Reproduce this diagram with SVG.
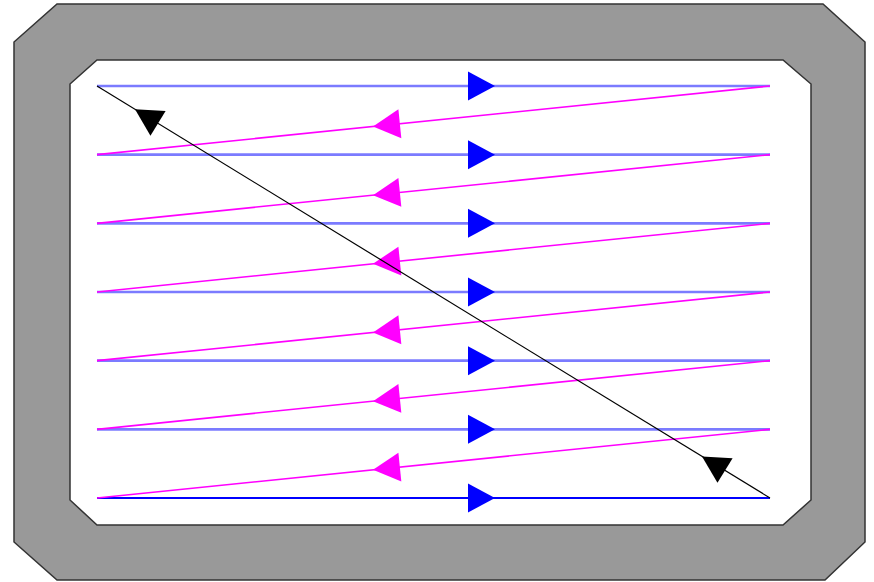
<svg xmlns="http://www.w3.org/2000/svg" xmlns:xlink="http://www.w3.org/1999/xlink" width="874" height="582" viewBox="0 0 874 582">
<style>
.frame{fill:#999999;stroke:#333333;stroke-width:1.5}
.screen{fill:#ffffff;stroke:#333333;stroke-width:1.5}
.scan{stroke:#7b7bff;stroke-width:2.6;fill:none}
.scanlast{stroke:#0000ff;stroke-width:2;fill:none}
.ret{stroke:#ff00ff;stroke-width:1.6;fill:none}
.diag{stroke:#000000;stroke-width:1.2;fill:none}
.ab{fill:#0000ff}
.am{fill:#ff00ff}
.ak{fill:#000000}
</style>
<defs>
<path id="ah" d="M0,0 L-27,-14.5 L-27,14.5 Z"/>
</defs>
<g id="tube">
<polygon class="frame" points="57,4 823,4 865,42 865,542 825,580 57,580 14,542 14,42"/>
</g>
<g id="screen">
<polygon class="screen" points="97,60 783,60 811,84 811,500 783,525 97,525 70,500 70,84"/>
</g>
<g id="connectors">
<line class="scan" x1="97" y1="86" x2="770" y2="86"/>
<line class="scan" x1="97" y1="154.67" x2="770" y2="154.67"/>
<line class="scan" x1="97" y1="223.33" x2="770" y2="223.33"/>
<line class="scan" x1="97" y1="292" x2="770" y2="292"/>
<line class="scan" x1="97" y1="360.67" x2="770" y2="360.67"/>
<line class="scan" x1="97" y1="429.33" x2="770" y2="429.33"/>
<line class="scanlast" x1="97" y1="498" x2="770" y2="498"/>
<line class="ret" x1="770" y1="86" x2="97" y2="154.67"/>
<line class="ret" x1="770" y1="154.67" x2="97" y2="223.33"/>
<line class="ret" x1="770" y1="223.33" x2="97" y2="292"/>
<line class="ret" x1="770" y1="292" x2="97" y2="360.67"/>
<line class="ret" x1="770" y1="360.67" x2="97" y2="429.33"/>
<line class="ret" x1="770" y1="429.33" x2="97" y2="498"/>
<use xlink:href="#ah" class="ab" transform="translate(495,86)"/>
<use xlink:href="#ah" class="ab" transform="translate(495,154.67)"/>
<use xlink:href="#ah" class="ab" transform="translate(495,223.33)"/>
<use xlink:href="#ah" class="ab" transform="translate(495,292)"/>
<use xlink:href="#ah" class="ab" transform="translate(495,360.67)"/>
<use xlink:href="#ah" class="ab" transform="translate(495,429.33)"/>
<use xlink:href="#ah" class="ab" transform="translate(495,498)"/>
<use xlink:href="#ah" class="am" transform="translate(373,126.5) rotate(174.17)"/>
<use xlink:href="#ah" class="am" transform="translate(373,195.17) rotate(174.17)"/>
<use xlink:href="#ah" class="am" transform="translate(373,263.83) rotate(174.17)"/>
<use xlink:href="#ah" class="am" transform="translate(373,332.5) rotate(174.17)"/>
<use xlink:href="#ah" class="am" transform="translate(373,401.17) rotate(174.17)"/>
<use xlink:href="#ah" class="am" transform="translate(373,469.83) rotate(174.17)"/>
<line class="diag" x1="770" y1="498" x2="97" y2="86"/>
<use xlink:href="#ah" class="ak" transform="translate(135,109.3) rotate(211.47)"/>
<use xlink:href="#ah" class="ak" transform="translate(702,456.4) rotate(211.47)"/>
</g>
</svg>
